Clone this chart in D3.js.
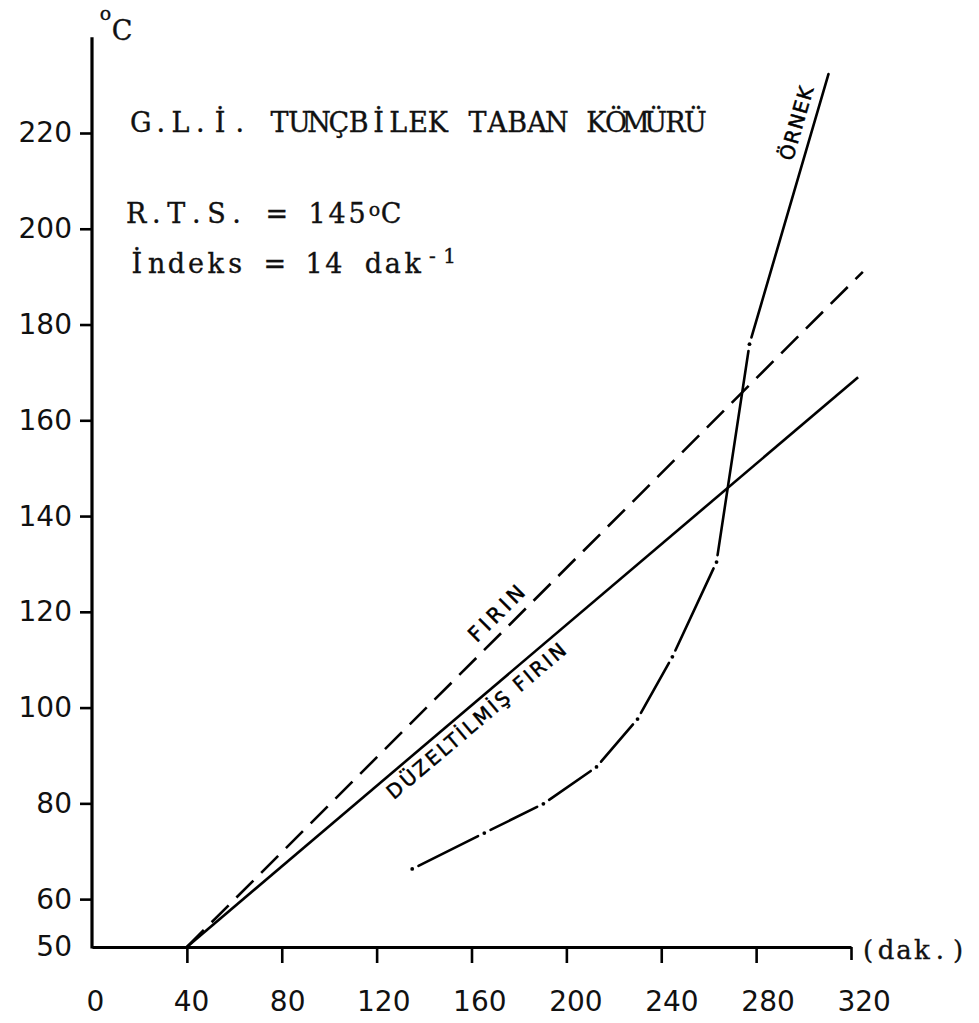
<!DOCTYPE html>
<html><head><meta charset="utf-8">
<script src="https://cdn.jsdelivr.net/npm/d3@7"></script>
<style>body{margin:0;background:#fff} svg{display:block}</style>
</head><body><svg id="c" width="979" height="1023"></svg>
<script>
// ---- data ----
const xTicks = [0, 40, 80, 120, 160, 200, 240, 280, 320];
const yTicks = [50, 60, 80, 100, 120, 140, 160, 180, 200, 220];
const firinX = [40, 325];
const firinY = [50, 191];
const duzeltilmisX = [40, 323];
const duzeltilmisY = [50, 169];
const ornekX = [135, 165.4, 190.3, 212.7, 230, 244.7, 263.3, 277.2, 310.5];
const ornekY = [66.3, 73.8, 79.9, 87.6, 97.6, 110.6, 130.4, 175.9, 232.3];
const titleText = "G.L.İ. TUNÇBİLEK TABAN KÖMÜRÜ";
const rtsText = "R.T.S. = 145";
const indeksText = "İndeks = 14 dak";
const yUnit = "C";
const xUnit = "(dak.)";

// ---- setup ----
const svg = d3.select('#c');
const x = d3.scaleLinear().domain([0, 320]).range([92, 851]);
const y = d3.scaleLinear().domain([50, 220]).range([947, 133]);
const NUM_FONT = "'DejaVu Sans', sans-serif";
const TYPE_FONT = "'DejaVu Serif', serif";
const LBL_FONT = "'DejaVu Sans', sans-serif";

// Y axis
const gy = svg.append('g').attr('transform', `translate(${x(0)},0)`)
  .call(d3.axisLeft(y).tickValues(yTicks).tickSize(12).tickPadding(8).tickFormat(d3.format('d')));
gy.select('.domain').remove();
gy.selectAll('.tick line').attr('stroke', '#000').attr('stroke-width', 2.6)
  .filter(d => d === 50).remove();
gy.selectAll('.tick text').attr('font-family', NUM_FONT).attr('font-size', 28).attr('fill', '#111');
svg.append('line').attr('x1', x(0)).attr('x2', x(0)).attr('y1', y(50) + 1.5).attr('y2', y(240))
  .attr('stroke', '#000').attr('stroke-width', 3.2);

// X axis
const gx = svg.append('g').attr('transform', `translate(0,${y(50)})`)
  .call(d3.axisBottom(x).tickValues(xTicks).tickSize(16).tickSizeOuter(0).tickFormat(d3.format('d')));
gx.select('.domain').attr('stroke', '#000').attr('stroke-width', 3);
gx.selectAll('.tick line').attr('stroke', '#000').attr('stroke-width', 2.6)
  .attr('y2', d => d === 320 ? 13 : 16)
  .filter(d => d === 0).remove();
gx.selectAll('.tick text').attr('font-family', NUM_FONT).attr('font-size', 28).attr('fill', '#111')
  .attr('y', 64).attr('dy', 0).attr('dx', d => 3 + d * 0.03);

// typewriter text: one character per fixed-width cell
function tw(tx, ty, size, txt, cell) {
  const chars = Array.from(txt);
  const xs = chars.map((c, i) => (tx + cell * (i + 0.5)).toFixed(1)).join(' ');
  return svg.append('text').attr('x', xs).attr('y', ty).attr('text-anchor', 'middle')
    .attr('font-family', TYPE_FONT).attr('font-size', size).attr('fill', '#111')
    .attr('stroke', '#111').attr('stroke-width', 0.35)
    .text(txt);
}
// unit labels
tw(99, 20, 19, 'o', 13);
tw(112, 40, 27, yUnit, 20);
tw(859, 959, 26, xUnit, 18);

// annotation text
tw(131, 132, 27, titleText, 19.8);
tw(126, 223, 27, rtsText, 20.1);
tw(368, 216, 19, 'o', 13);
tw(381, 223, 27, 'C', 20);
tw(127, 273, 27, indeksText, 19.7);
tw(424, 263, 20, '-1', 17);

// ---- lines ----
const line = d3.line().x(d => x(d[0])).y(d => y(d[1]));
const firinData = firinX.map((v, i) => [v, firinY[i]]);
const duzData = duzeltilmisX.map((v, i) => [v, duzeltilmisY[i]]);

svg.append('path').attr('d', line(firinData)).attr('fill', 'none')
  .attr('stroke', '#000').attr('stroke-width', 2.6).attr('stroke-dasharray', '24 11');
svg.append('path').attr('d', line(duzData)).attr('fill', 'none')
  .attr('stroke', '#000').attr('stroke-width', 2.6);

// Örnek: segments with gaps and dots at joints
const ornekData = ornekX.map((v, i) => [v, ornekY[i]]);
const gap = 7;
const gO = svg.append('g');
for (let i = 0; i < ornekData.length - 1; i++) {
  const p = [x(ornekData[i][0]), y(ornekData[i][1])];
  const q = [x(ornekData[i + 1][0]), y(ornekData[i + 1][1])];
  const L = Math.hypot(q[0] - p[0], q[1] - p[1]);
  const ux = (q[0] - p[0]) / L, uy = (q[1] - p[1]) / L;
  const eg = (i + 1 === ornekData.length - 1) ? 0 : gap;
  gO.append('line')
    .attr('x1', p[0] + ux * gap).attr('y1', p[1] + uy * gap)
    .attr('x2', q[0] - ux * eg).attr('y2', q[1] - uy * eg)
    .attr('stroke', '#000').attr('stroke-width', 2.6).attr('stroke-linecap', 'round');
  gO.append('circle').attr('cx', p[0]).attr('cy', p[1]).attr('r', 1.9).attr('fill', '#000');
}

// labels along lines
function along(p0, p1, f, off, txt, size, len) {
  const a = [x(p0[0]), y(p0[1])], b = [x(p1[0]), y(p1[1])];
  const px = a[0] + (b[0] - a[0]) * f, py = a[1] + (b[1] - a[1]) * f;
  const ang = Math.atan2(b[1] - a[1], b[0] - a[0]) * 180 / Math.PI;
  svg.append('text')
    .attr('transform', `translate(${px},${py}) rotate(${ang})`)
    .attr('x', 0).attr('y', off).attr('text-anchor', 'middle')
    .attr('font-family', LBL_FONT).attr('font-size', size).attr('fill', '#000')
    .attr('stroke', '#000').attr('stroke-width', 0.5)
    .attr('textLength', len).attr('lengthAdjust', 'spacing')
    .text(txt);
}
along(firinData[0], firinData[1], 0.476, -10, 'FIRIN', 21, 70);
along(duzData[0], duzData[1], 0.4166, 22, 'DÜZELTİLMİŞ FIRIN', 20, 228);
along(ornekData[7], ornekData[8], 0.80, -10, 'ÖRNEK', 20, 76);
</script>
</body></html>
